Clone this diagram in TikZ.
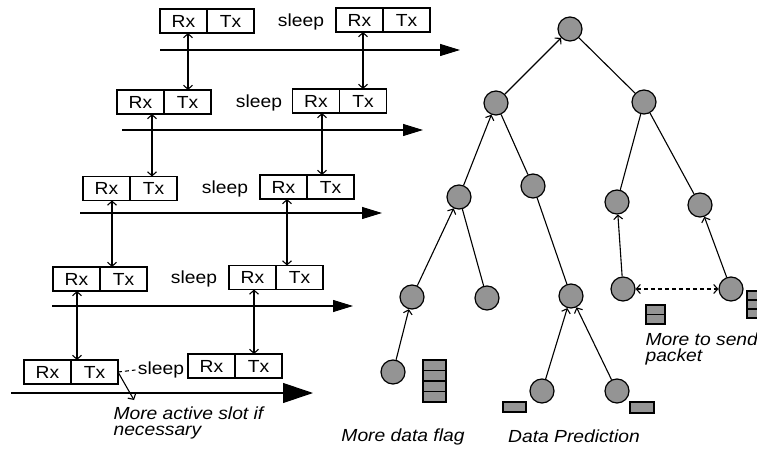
\documentclass[tikz,border=0pt]{standalone}
\usepackage{fontspec}
\setmainfont[FakeStretch=1.1]{Liberation Sans}
\usetikzlibrary{arrows.meta,positioning}

\tikzset{
  cell/.style={draw, line width=1.1pt, minimum width=47pt, minimum height=24pt,
    inner sep=0pt, outer sep=0pt},
  sleeptext/.style={inner sep=2pt},
  timeline/.style={-{Triangle[length=20pt,width=12pt]}},
  link/.style={<->},
  sensor/.style={circle, draw, fill=black!42, line width=1.2pt,
    minimum size=24pt, inner sep=0pt},
  uplink/.style={->},
  packet/.style={draw, fill=black!42, line width=1.1pt},
  note/.style={font=\fontsize{17.5}{16}\selectfont\itshape, inner sep=0pt, align=left}
}

\begin{document}
\begin{tikzpicture}[x=1pt, y=-1pt, line width=1.1pt,
    font=\fontsize{17.5}{16}\selectfont,
    >={Straight Barb[length=4pt,width=9pt]}]
  \useasboundingbox (0,0) rectangle (757,454);

  % Slots, row 1
  \node[cell] (rx1a) at (183.5,21) {Rx};
  \node[cell, right=0pt of rx1a] (tx1a) {Tx};
  \node[sleeptext] (sleep1) at (301,22) {sleep};
  \node[cell] (rx1b) at (359.5,20) {Rx};
  \node[cell, right=0pt of rx1b] (tx1b) {Tx};
  \coordinate (t1s) at (160,50);
  \coordinate (t1e) at (460,50);
  \draw[timeline] (t1s) -- (t1e);

  % Slots, row 2
  \node[cell] (rx2a) at (140.5,102) {Rx};
  \node[cell, right=0pt of rx2a] (tx2a) {Tx};
  \node[sleeptext] (sleep2) at (259,103) {sleep};
  \node[cell] (rx2b) at (316,101) {Rx};
  \node[cell, right=0pt of rx2b] (tx2b) {Tx};
  \coordinate (t2s) at (122,130);
  \coordinate (t2e) at (423,130);
  \draw[timeline] (t2s) -- (t2e);

  % Slots, row 3
  \node[cell] (rx3a) at (106.5,188.5) {Rx};
  \node[cell, right=0pt of rx3a] (tx3a) {Tx};
  \node[sleeptext] (sleep3) at (225,189) {sleep};
  \node[cell] (rx3b) at (283.5,187) {Rx};
  \node[cell, right=0pt of rx3b] (tx3b) {Tx};
  \coordinate (t3s) at (80,213);
  \coordinate (t3e) at (382,213);
  \draw[timeline] (t3s) -- (t3e);

  % Slots, row 4
  \node[cell] (rx4a) at (76.5,279) {Rx};
  \node[cell, right=0pt of rx4a] (tx4a) {Tx};
  \node[sleeptext] (sleep4) at (194,279) {sleep};
  \node[cell] (rx4b) at (252.5,277.5) {Rx};
  \node[cell, right=0pt of rx4b] (tx4b) {Tx};
  \coordinate (t4s) at (52,306);
  \coordinate (t4e) at (353,306);
  \draw[timeline] (t4s) -- (t4e);

  % Slots, row 5
  \node[cell] (rx5a) at (47.5,372) {Rx};
  \node[cell, right=0pt of rx5a] (tx5a) {Tx};
  \node[sleeptext] (sleep5) at (161,370) {sleep};
  \node[cell] (rx5b) at (211.5,366) {Rx};
  \node[cell, right=0pt of rx5b] (tx5b) {Tx};
  \coordinate (t5s) at (11,393);
  \coordinate (t5e) at (313,393);
  \draw[-{Triangle[length=30pt,width=20pt]}] (t5s) -- (t5e);
  \draw[dash pattern=on 4pt off 3pt] (tx5a.east) -- (sleep5.west);

  % Exchanges between neighbouring rows
  \draw[link] (188,0 |- rx1a.south) -- (188,0 |- tx2a.north);
  \draw[link] (363,0 |- rx1b.south) -- (363,0 |- tx2b.north);
  \draw[link] (152,0 |- rx2a.south) -- (152,0 |- tx3a.north);
  \draw[link] (322,0 |- rx2b.south) -- (322,0 |- tx3b.north);
  \draw[link] (112,0 |- rx3a.south) -- (112,0 |- tx4a.north);
  \draw[link] (287,0 |- rx3b.south) -- (287,0 |- tx4b.north);
  \draw[link] (77,0 |- rx4a.south) -- (77,0 |- tx5a.north);
  \draw[link] (254,0 |- rx4b.south) -- (254,0 |- tx5b.north);

  % Extra active slot
  \coordinate (slotend) at (134,400);
  \draw[->] (tx5a.east) -- (slotend);
  \node[note, anchor=north west] (active) at (113,406) {More active slot if\\necessary};

  % Tree of sensors
  \node[sensor] (root) at (570,29) {};
  \node[sensor] (l) at (496,103) {};
  \node[sensor] (r) at (644,102) {};
  \node[sensor] (ll) at (459,197) {};
  \node[sensor] (lr) at (533,186) {};
  \node[sensor] (rl) at (617,202) {};
  \node[sensor] (rr) at (700,205) {};
  \node[sensor] (lll) at (412,297) {};
  \node[sensor] (llr) at (487,298) {};
  \node[sensor] (lrl) at (571,296) {};
  \node[sensor] (rll) at (623,289) {};
  \node[sensor] (rrl) at (731,289) {};
  \node[sensor] (llll) at (393,372) {};
  \node[sensor] (lrll) at (542,391) {};
  \node[sensor] (lrlr) at (617,391) {};

  % Tree edges
  \draw[uplink] (l) -- (root);
  \draw (root) -- (r);
  \draw[uplink] (ll) -- (l);
  \draw (l) -- (lr);
  \draw (r) -- (rl);
  \draw (r) -- (rr);
  \draw[uplink] (lll) -- (ll);
  \draw (ll) -- (llr);
  \draw (lr) -- (lrl);
  \draw[uplink] (rll) -- (rl);
  \draw[uplink] (rrl) -- (rr);
  \draw[uplink] (llll) -- (lll);
  \draw[uplink] (lrll) -- (lrl);
  \draw[uplink] (lrlr) -- (lrl);
  \draw[<->, dash pattern=on 4pt off 3pt] (rll) -- (rrl);

  % Queued packets
  \draw[packet] (423,360) rectangle (446,370.5);
  \draw[packet] (423,370.5) rectangle (446,381);
  \draw[packet] (423,381) rectangle (446,391.5);
  \draw[packet] (423,391.5) rectangle (446,402);
  \draw[packet] (503,402) rectangle (526,412);
  \draw[packet] (630,402) rectangle (654,413);
  \draw[packet] (646,305) rectangle (665,314.5);
  \draw[packet] (646,314.5) rectangle (665,324);
  \draw[packet] (747,291) rectangle (767,300);
  \draw[packet] (747,300) rectangle (767,309);
  \draw[packet] (747,309) rectangle (767,318);

  % Labels
  \node[note] (flag) at (403,437) {More data flag};
  \node[note] (pred) at (574,436) {Data Prediction};
  \node[note, anchor=north west] (send) at (645,332) {More to send\\packet};

\end{tikzpicture}
\end{document}
